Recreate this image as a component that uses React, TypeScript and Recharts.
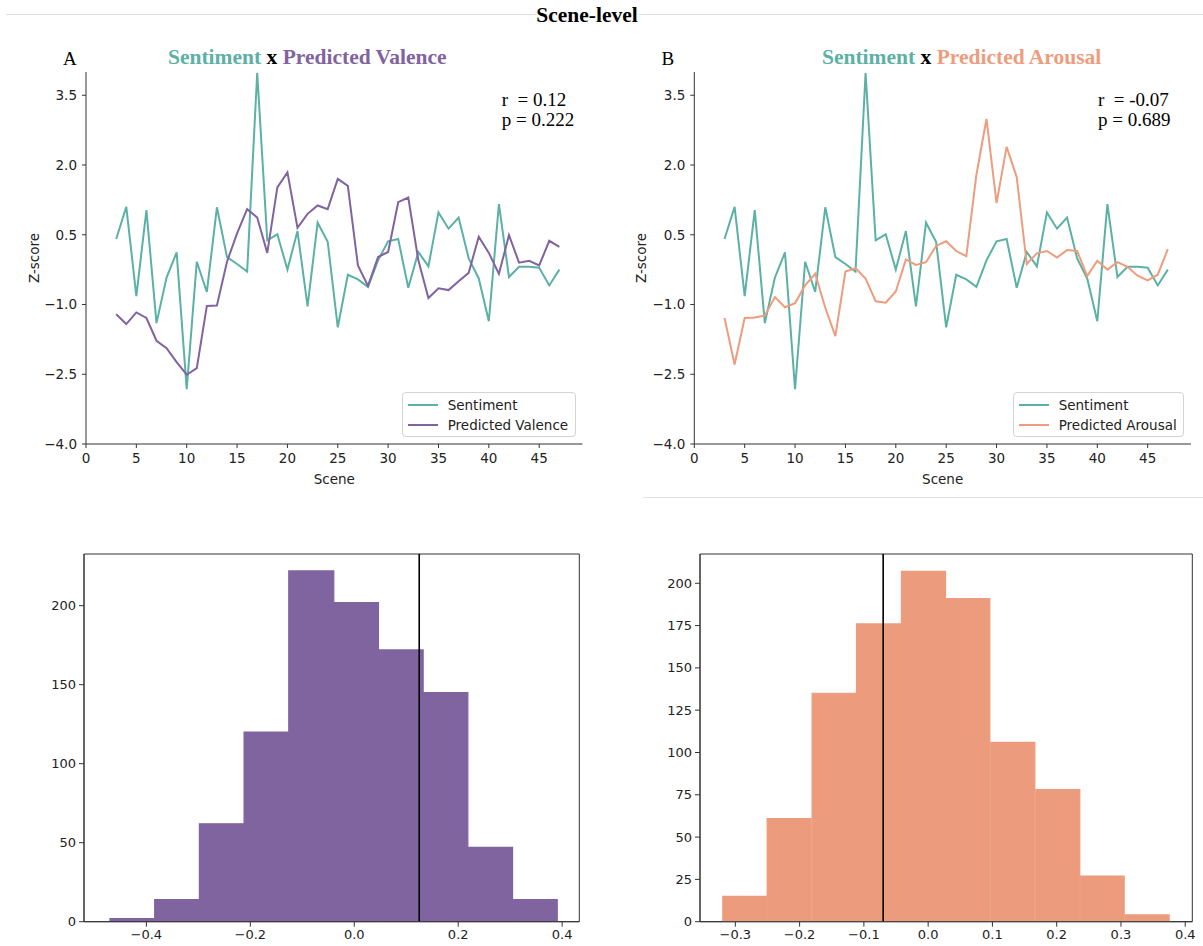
import {
  LineChart, Line, XAxis, YAxis, Legend, BarChart, Bar, ReferenceLine, ReferenceArea,
} from "recharts";

// scene-level z-scores (scenes 3..47)
const SCENES = [
  3, 4, 5, 6, 7, 8, 9, 10, 11, 12, 13, 14, 15, 16, 17, 18, 19, 20, 21, 22, 23, 24, 25,
  26, 27, 28, 29, 30, 31, 32, 33, 34, 35, 36, 37, 38, 39, 40, 41, 42, 43, 44, 45, 46, 47,
];
const SENTIMENT = [
  0.41, 1.1, -0.82, 1.03, -1.4, -0.42, 0.12, -2.82, -0.08, -0.73, 1.09, 0.02, -0.13, -0.29, 3.98,
  0.38, 0.51, -0.25, 0.58, -1.04, 0.76, 0.35, -1.49, -0.36, -0.46, -0.62, -0.05, 0.36, 0.41, -0.64,
  0.13, -0.18, 0.98, 0.63, 0.87, -0.01, -0.44, -1.36, 1.16, -0.41, -0.19, -0.19, -0.21, -0.59, -0.25,
];
const PRED_VALENCE = [
  -1.21, -1.42, -1.17, -1.29, -1.78, -1.94, -2.24, -2.51, -2.37, -1.03, -1.02, -0.08, 0.53, 1.05, 0.87,
  0.11, 1.52, 1.84, 0.65, 0.95, 1.13, 1.05, 1.7, 1.55, -0.16, -0.6, 0.02, 0.13, 1.2, 1.3,
  -0.05, -0.86, -0.65, -0.69, -0.5, -0.32, 0.46, 0.11, -0.34, 0.49, -0.1, -0.06, -0.16, 0.37, 0.24,
];
const PRED_AROUSAL = [
  -1.29, -2.29, -1.29, -1.28, -1.24, -0.84, -1.06, -0.97, -0.59, -0.34, -1.07, -1.68, -0.29, -0.22, -0.44,
  -0.93, -0.96, -0.72, -0.03, -0.15, -0.09, 0.26, 0.36, 0.15, 0.04, 1.79, 2.99, 1.18, 2.39, 1.74,
  -0.13, 0.1, 0.15, 0.01, 0.17, 0.15, -0.39, -0.06, -0.25, -0.09, -0.19, -0.38, -0.48, -0.36, 0.19,
];
const SCENE_TICKS = [0, 5, 10, 15, 20, 25, 30, 35, 40, 45];
const Z_TICKS = [3.5, 2.0, 0.5, -1.0, -2.5, -4.0];

// permutation histograms (bin centres + counts)
const VAL_BINS = [-0.427, -0.341, -0.255, -0.169, -0.083, 0.003, 0.089, 0.175, 0.261, 0.347];
const VAL_COUNTS = [2, 14, 62, 120, 222, 202, 172, 145, 47, 14];
const VAL_R = 0.125;
const VAL_TICKS = [-0.4, -0.2, 0.0, 0.2, 0.4];
const VAL_COUNT_TICKS = [0, 50, 100, 150, 200];

const ARO_BINS = [-0.285, -0.216, -0.146, -0.077, -0.007, 0.062, 0.132, 0.202, 0.271, 0.341];
const ARO_COUNTS = [15, 61, 135, 176, 207, 191, 106, 78, 27, 4];
const ARO_R = -0.07;
const ARO_TICKS = [-0.3, -0.2, -0.1, 0.0, 0.1, 0.2, 0.3, 0.4];
const ARO_COUNT_TICKS = [0, 25, 50, 75, 100, 125, 150, 175, 200];

const SERIF = '"Liberation Serif", "Times New Roman", serif';
const SANS = '"DejaVu Sans", Verdana, sans-serif';
const TEAL = "#5bb1a5";
const PURPLE = "#8063a0";
const ORANGE = "#ee9c7e";
const AXIS = "#333";

const fmt1 = (v: number) => (v < 0 ? "\u2212" : "") + Math.abs(v).toFixed(1);

const sceneRows = SCENES.map((s, i) => ({
  scene: s, sentiment: SENTIMENT[i], valence: PRED_VALENCE[i], arousal: PRED_AROUSAL[i],
}));
const valRows = VAL_BINS.map((x, i) => ({ x, count: VAL_COUNTS[i] }));
const aroRows = ARO_BINS.map((x, i) => ({ x, count: ARO_COUNTS[i] }));

const tickTop = { fill: "#222", fontSize: 13.5, fontFamily: SANS };
const tickHist = { fill: "#222", fontSize: 13, fontFamily: SANS };

function Txt({ left, top, size, bold, color = "#000", children, pre }: any) {
  return (
    <div style={{
      position: "absolute", left, top, fontFamily: SERIF, fontSize: size, lineHeight: `${size}px`,
      fontWeight: bold ? "bold" : "normal", color, whiteSpace: pre ? "pre" : "nowrap",
    }}>{children}</div>
  );
}

// matplotlib-ish legend box; keeps plotting order (Sentiment first)
function BoxLegend({ payload, width }: any) {
  const items = [...(payload ?? [])].sort((a: any, b: any) =>
    (a.value === "Sentiment" ? 0 : 1) - (b.value === "Sentiment" ? 0 : 1));
  return (
    <div style={{
      width, height: 45, boxSizing: "border-box", border: "1px solid #d4d4d4", borderRadius: 4,
      background: "rgba(255,255,255,0.85)", padding: "2px 0 0 5px", fontFamily: SANS, fontSize: 13.5, color: "#222",
    }}>
      {items.map((p: any) => (
        <div key={p.value} style={{ display: "flex", alignItems: "center", height: 20 }}>
          <span style={{ display: "inline-block", width: 30, borderTop: `2px solid ${p.color}`, marginRight: 10 }} />
          {p.value}
        </div>
      ))}
    </div>
  );
}

function SceneChart({ left, width, marginLeft, marginRight, predKey, predName, predColor, legendLeft, legendWidth }: any) {
  return (
    <div style={{ position: "absolute", left, top: 0 }}>
      <LineChart width={width} height={500} data={sceneRows}
        margin={{ top: 72, right: marginRight, bottom: 11, left: marginLeft }}>
        <XAxis dataKey="scene" type="number" domain={[0, 49.3]} ticks={SCENE_TICKS} allowDataOverflow
          height={45} tickSize={4} tickMargin={5} stroke={AXIS} tick={tickTop}
          label={{ value: "Scene", position: "insideBottom", offset: 5, fill: "#222", fontSize: 13.5, fontFamily: SANS }} />
        <YAxis type="number" domain={[-4, 4]} ticks={Z_TICKS} allowDataOverflow width={60}
          tickSize={4} tickMargin={5} stroke={AXIS} tick={tickTop} tickFormatter={fmt1} />
        <Legend layout="vertical" align="center" verticalAlign="middle"
          wrapperStyle={{ left: legendLeft, top: 391.7, width: legendWidth, height: 45 }}
          content={(props: any) => <BoxLegend {...props} width={legendWidth} />} />
        <Line type="linear" dataKey="sentiment" name="Sentiment" stroke={TEAL} strokeWidth={2}
          dot={false} isAnimationActive={false} />
        <Line type="linear" dataKey={predKey} name={predName} stroke={predColor} strokeWidth={2}
          dot={false} isAnimationActive={false} />
      </LineChart>
    </div>
  );
}

function HistChart({ left, width, marginLeft, marginRight, rows, domain, ticks, countDomain, countTicks, r, color }: any) {
  return (
    <div style={{ position: "absolute", left, top: 500 }}>
      <BarChart width={width} height={446} data={rows} barCategoryGap={0} barGap={0}
        margin={{ top: 54, right: marginRight, bottom: 0, left: marginLeft }}>
        <XAxis dataKey="x" type="number" domain={domain} ticks={ticks} allowDataOverflow
          height={24.3} tickSize={5} tickMargin={3} stroke={AXIS} tick={tickHist} tickFormatter={fmt1} />
        <YAxis type="number" domain={countDomain} ticks={countTicks} allowDataOverflow width={50}
          tickSize={5} tickMargin={3} stroke={AXIS} tick={tickHist} />
        <Bar dataKey="count" fill={color} stroke={color} strokeWidth={1.2} isAnimationActive={false} />
        <ReferenceLine x={r} stroke="#000" strokeWidth={1.6} />
        {/* axes frame (top + right spines) */}
        <ReferenceArea x1={domain[0]} x2={domain[1]} y1={countDomain[0]} y2={countDomain[1]}
          fill="none" fillOpacity={0} stroke={AXIS} strokeWidth={1} ifOverflow="visible" />
      </BarChart>
    </div>
  );
}

export default function App() {
  return (
    <div style={{ position: "absolute", left: 0, top: 0, width: 1203, height: 946, background: "#fff", overflow: "hidden" }}>
      {/* rules */}
      <div style={{ position: "absolute", left: 6, top: 14, width: 1197, height: 1, background: "#dedede" }} />
      <div style={{ position: "absolute", left: 643, top: 497, width: 560, height: 1, background: "#e2e2e2" }} />
      <div style={{
        position: "absolute", left: 587, top: 5, transform: "translateX(-50%)", background: "#fff",
        fontFamily: SERIF, fontSize: 21.5, lineHeight: "21.5px", fontWeight: "bold", whiteSpace: "nowrap",
      }}>Scene-level</div>

      <SceneChart left={0} width={600} marginLeft={26} marginRight={17.5}
        predKey="valence" predName="Predicted Valence" predColor={PURPLE} legendLeft={401.7} legendWidth={174} />
      <SceneChart left={600} width={603} marginLeft={34.3} marginRight={12}
        predKey="arousal" predName="Predicted Arousal" predColor={ORANGE} legendLeft={412.7} legendWidth={171.3} />

      <HistChart left={0} width={600} marginLeft={34} marginRight={20.7} rows={valRows}
        domain={[-0.52, 0.433]} ticks={VAL_TICKS} countDomain={[0, 232.7]} countTicks={VAL_COUNT_TICKS}
        r={VAL_R} color="#8064a0" />
      <HistChart left={600} width={603} marginLeft={50} marginRight={10.7} rows={aroRows}
        domain={[-0.355, 0.411]} ticks={ARO_TICKS} countDomain={[0, 217.3]} countTicks={ARO_COUNT_TICKS}
        r={ARO_R} color="#ec9c7c" />

      {/* panel letters + titles */}
      <Txt left={63} top={49} size={19}>A</Txt>
      <Txt left={168} top={47} size={21.5} bold>
        <span style={{ color: TEAL }}>Sentiment</span> x <span style={{ color: PURPLE }}>Predicted Valence</span>
      </Txt>
      <Txt left={661.5} top={49} size={19}>B</Txt>
      <Txt left={822} top={47} size={21.5} bold>
        <span style={{ color: TEAL }}>Sentiment</span> x <span style={{ color: ORANGE }}>Predicted Arousal</span>
      </Txt>

      {/* stats */}
      <Txt left={501.7} top={90} size={19} pre>{"r  = 0.12"}</Txt>
      <Txt left={501.7} top={110} size={19}>p = 0.222</Txt>
      <Txt left={1098} top={90} size={19} pre>{"r  = -0.07"}</Txt>
      <Txt left={1098} top={110} size={19}>p = 0.689</Txt>

      {/* y-axis labels */}
      {[33.5, 641].map((x) => (
        <div key={x} style={{
          position: "absolute", left: x, top: 258, transform: "translate(-50%, -50%) rotate(-90deg)",
          fontFamily: SANS, fontSize: 13.5, color: "#222", whiteSpace: "nowrap",
        }}>Z-score</div>
      ))}
    </div>
  );
}
